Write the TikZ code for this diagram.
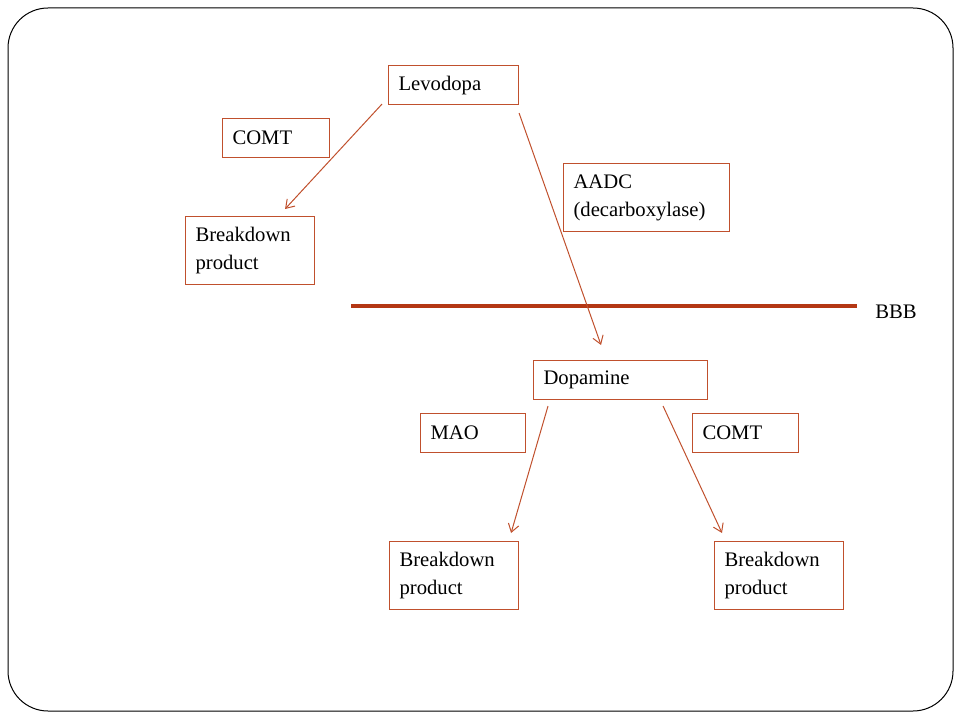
\documentclass[tikz,border=0pt]{standalone}
\usepackage{fontspec}
\setmainfont{Liberation Serif}
\usetikzlibrary{arrows.meta,calc}
\definecolor{boxc}{RGB}{192,80,45}
\definecolor{barc}{RGB}{180,55,20}
\begin{document}
\begin{tikzpicture}[x=0.75pt,y=-0.75pt,
  pbox/.style={draw=boxc,line width=0.8pt,rectangle,anchor=north west,inner xsep=7.5pt,inner ysep=0pt,align=left,font=\fontsize{15.5}{21}\selectfont},
  conn/.style={draw=boxc,line width=0.75pt,-{Straight Barb[length=6pt,width=8pt]}}]
\useasboundingbox (0,0) rectangle (960,720);
\draw[line width=0.75pt,rounded corners=30] (8,8) rectangle (953,711);
% boxes: minimum width/height in px*0.75
\node[pbox,minimum width=97.5pt,minimum height=29.25pt,text width=82.5pt] (lev) at (388,65) {Levodopa};
\node[pbox,minimum width=80.25pt,minimum height=29.25pt,text width=65.25pt] (comt1) at (222,118) {COMT};
\node[pbox,minimum width=96.75pt,minimum height=51pt,text width=81.75pt] (bd1) at (185,216) {Breakdown\\product};
\node[pbox,minimum width=124.5pt,minimum height=51pt,text width=109.5pt] (aadc) at (563,163) {AADC\\(decarboxylase)};
\node[pbox,minimum width=130.5pt,minimum height=29.25pt,text width=115.5pt] (dop) at (533,360) {Dopamine};
\node[pbox,minimum width=78.75pt,minimum height=29.25pt,text width=63.75pt] (mao) at (420,413) {MAO};
\node[pbox,minimum width=79.5pt,minimum height=29.25pt,text width=64.5pt] (comt2) at (692,413) {COMT};
\node[pbox,minimum width=96.75pt,minimum height=51pt,text width=81.75pt] (bd2) at (389,541) {Breakdown\\product};
\node[pbox,minimum width=96.75pt,minimum height=51pt,text width=81.75pt] (bd3) at (714,541) {Breakdown\\product};
% BBB
\coordinate (bbbL) at (351,306);
\coordinate (bbbR) at (857,306);
\draw[barc,line width=3pt] (bbbL) -- (bbbR);
\node[anchor=west,inner sep=0pt,font=\fontsize{15.5}{21}\selectfont] (bbb) at (875,312) {BBB};
% arrows
\draw[conn] ($(lev.south west)+(-6,-1)$) -- ($(bd1.north east)+(-30,-7)$);
\draw[conn] ($(lev.south east)+(0,8)$) -- ($(dop.north west)+(68,-15)$);
\draw[conn] ($(dop.south west)+(15,6)$) -- ($(bd2.north east)+(-8,-8)$);
\draw[conn] ($(dop.south east)+(-45,6)$) -- ($(bd3.north west)+(8,-8)$);
\end{tikzpicture}
\end{document}
